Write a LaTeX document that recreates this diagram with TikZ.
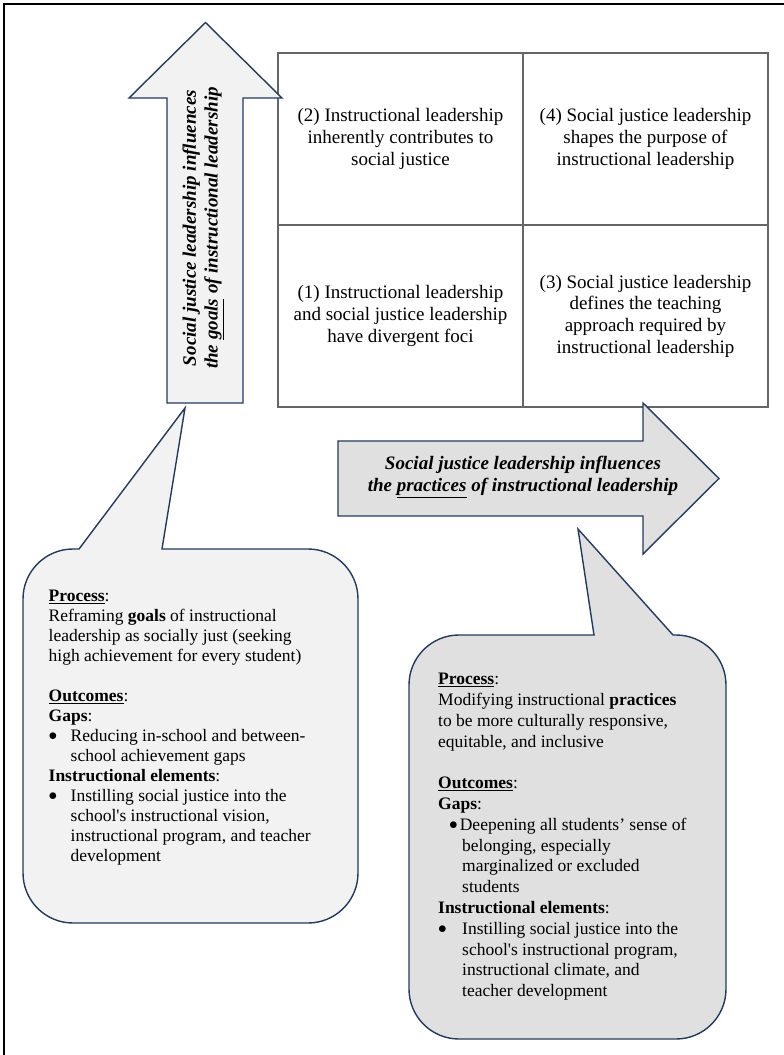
\documentclass[tikz,border=0pt]{standalone}
\usepackage{xcolor}
\usepackage{fontspec}
\setmainfont{Liberation Serif}
\usetikzlibrary{
    positioning
}
\definecolor{navy}{HTML}{243A5E}
\definecolor{lightfill}{HTML}{F2F2F2}
\definecolor{midfill}{HTML}{E0E0E0}
\definecolor{gridline}{HTML}{666666}
\newcommand{\notebullet}{\raisebox{1pt}{$\bullet$}}
\tikzset{%
    cell/.style={%
        rectangle,
        draw=gridline,
        line width=1.2pt,
        inner sep = 0pt,
        outer sep = 0pt,
        minimum width=245pt,
        align=center,
        font=\fontsize{19}{21.7}\selectfont
    },
    frame line/.style={%
        draw=black,
        line width=2pt
    },
    big arrow/.style={%
        draw=navy,
        line width=1.4pt,
        line join=miter
    },
    callout/.style={%
        draw=navy,
        line width=1.4pt,
        line join=miter
    },
    arrow text/.style={%
        align=center,
        inner sep = 0pt,
        font=\fontsize{19}{21.7}\selectfont\bfseries\itshape
    },
    note text/.style={%
        align=left,
        inner sep = 0pt,
        anchor=north west
    },
}

\begin{document}
\begin{tikzpicture}[x=1pt, y=-1pt]

    \useasboundingbox (0,0) rectangle (784,1055);

    \draw[frame line] (784,4) -- (4,4) -- (4,1055);

    \node[cell, minimum height=172pt, anchor=north west] (c2) at (278,53)
        {(2) Instructional leadership\\inherently contributes to\\social justice};
    \node[cell, minimum height=172pt, right=0pt of c2] (c4)
        {(4) Social justice leadership\\shapes the purpose of\\instructional leadership};
    \node[cell, minimum height=182pt, below=0pt of c2] (c1)
        {(1) Instructional leadership\\and social justice leadership\\have divergent foci};
    \node[cell, minimum height=182pt, right=0pt of c1] (c3)
        {(3) Social justice leadership\\defines the teaching\\approach required by\\instructional leadership};

    \draw[big arrow, fill=lightfill] (167,403) -- (167,98) -- (129,98) -- (205.5,22.5)
        -- (282,98) -- (243,98) -- (243,403) -- cycle;
    \draw[big arrow, fill=midfill] (338,441) -- (643,441) -- (643,403) -- (719,478.5)
        -- (643,554) -- (643,516) -- (338,516) -- cycle;

    \node[arrow text, rotate=90] (goalsText) at (203,228)
        {Social justice leadership influences\\the \underline{goals} of instructional leadership};
    \node[arrow text] (practicesText) at (523,477)
        {Social justice leadership influences\\the \underline{practices} of instructional leadership};

    \draw[callout, fill=lightfill] (162,549) -- (308,549)
        arc[start angle=90, end angle=0, radius=50pt] -- (358,873)
        arc[start angle=0, end angle=-90, radius=50pt] -- (73,923)
        arc[start angle=-90, end angle=-180, radius=50pt] -- (23,599)
        arc[start angle=180, end angle=90, radius=50pt] -- (79,549)
        -- (185,408) -- cycle;
    \draw[callout, fill=midfill] (673,635) -- (676,635)
        arc[start angle=90, end angle=0, radius=50pt] -- (726,989)
        arc[start angle=0, end angle=-90, radius=50pt] -- (459,1039)
        arc[start angle=-90, end angle=-180, radius=50pt] -- (409,685)
        arc[start angle=180, end angle=90, radius=50pt] -- (594,635)
        -- (578,529) -- cycle;

    \node[note text, font=\fontsize{17.5}{20}\selectfont] (goalsNote) at (48.5,590) {%
        \underline{\textbf{Process}}:\\
        Reframing \textbf{goals} of instructional\\
        leadership as socially just (seeking\\
        high achievement for every student)\\[20pt]
        \underline{\textbf{Outcomes}}:\\
        \textbf{Gaps}:\\
        \makebox[22pt][l]{\notebullet}Reducing in-school and between-\\
        \hspace*{22pt}school achievement gaps\\
        \textbf{Instructional elements}:\\
        \makebox[22pt][l]{\notebullet}Instilling social justice into the\\
        \hspace*{22pt}school\textquotesingle s instructional vision,\\
        \hspace*{22pt}instructional program, and teacher\\
        \hspace*{22pt}development};

    \node[note text, font=\fontsize{17.5}{20.8}\selectfont] (practicesNote) at (438,673) {%
        \underline{\textbf{Process}}:\\
        Modifying instructional \textbf{practices}\\
        to be more culturally responsive,\\
        equitable, and inclusive\\[20.8pt]
        \underline{\textbf{Outcomes}}:\\
        \textbf{Gaps}:\\
        \hspace*{11pt}\notebullet\hspace{2pt}Deepening all students' sense of\\
        \hspace*{24pt}belonging, especially\\
        \hspace*{24pt}marginalized or excluded\\
        \hspace*{24pt}students\\
        \textbf{Instructional elements}:\\
        \makebox[24pt][l]{\notebullet}Instilling social justice into the\\
        \hspace*{24pt}school\textquotesingle s instructional program,\\
        \hspace*{24pt}instructional climate, and\\
        \hspace*{24pt}teacher development};
\end{tikzpicture}
\end{document}
